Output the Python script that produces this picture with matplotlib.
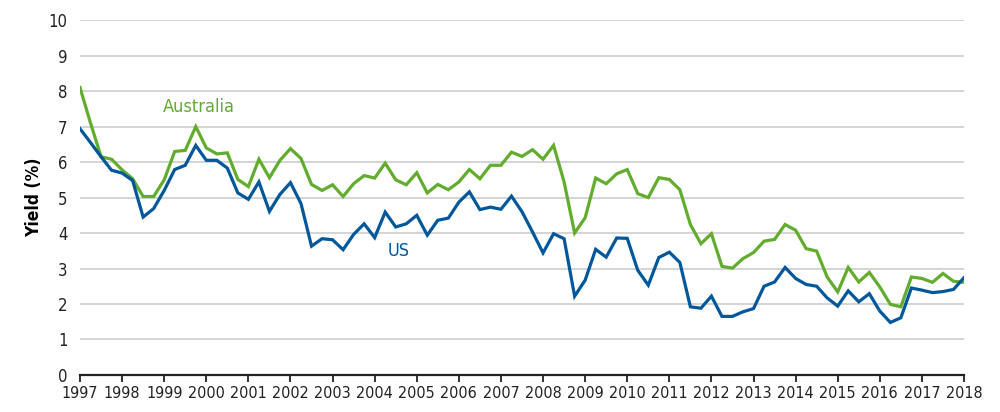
# Australia vs US 10-year government bond yields, quarterly 1997-2018

import numpy
import matplotlib
matplotlib.use("Agg")
import matplotlib.pyplot as plt

plt.rcParams['font.family'] = ['DejaVu Sans']
plt.rcParams['font.stretch'] = 'condensed'

# quarterly observations, 1997Q1 .. 2018Q1
start_year = 1997
australia = [8.10, 7.10, 6.15, 6.08, 5.78, 5.53, 5.03, 5.03, 5.50, 6.30,
             6.33, 7.00, 6.40, 6.23, 6.26, 5.51, 5.31, 6.08, 5.56, 6.05,
             6.38, 6.10, 5.37, 5.20, 5.36, 5.03, 5.39, 5.62, 5.55, 5.97,
             5.50, 5.36, 5.70, 5.13, 5.37, 5.22, 5.44, 5.79, 5.53, 5.91,
             5.91, 6.28, 6.16, 6.35, 6.08, 6.47, 5.44, 4.00, 4.43, 5.55,
             5.39, 5.67, 5.79, 5.11, 5.00, 5.56, 5.51, 5.22, 4.24, 3.70,
             3.98, 3.06, 3.01, 3.28, 3.45, 3.77, 3.82, 4.24, 4.08, 3.56,
             3.49, 2.76, 2.34, 3.03, 2.62, 2.89, 2.48, 1.99, 1.92, 2.76,
             2.72, 2.61, 2.86, 2.64, 2.61]
us = [6.94, 6.55, 6.15, 5.77, 5.69, 5.48, 4.45, 4.69, 5.20, 5.79,
      5.91, 6.47, 6.05, 6.05, 5.83, 5.13, 4.95, 5.44, 4.61, 5.09,
      5.42, 4.83, 3.63, 3.84, 3.81, 3.53, 3.96, 4.26, 3.87, 4.59,
      4.17, 4.26, 4.50, 3.94, 4.36, 4.42, 4.87, 5.16, 4.66, 4.73,
      4.67, 5.04, 4.60, 4.03, 3.44, 3.98, 3.84, 2.22, 2.67, 3.54,
      3.32, 3.86, 3.85, 2.95, 2.53, 3.31, 3.46, 3.17, 1.92, 1.88,
      2.22, 1.65, 1.65, 1.78, 1.87, 2.50, 2.62, 3.03, 2.72, 2.55,
      2.50, 2.17, 1.94, 2.37, 2.06, 2.29, 1.80, 1.48, 1.61, 2.45,
      2.39, 2.32, 2.35, 2.41, 2.74]
years = list(range(1997, 2019))

t = start_year + numpy.arange(len(australia)) / 4.0

green = '#62ac2e'
blue = '#00579a'

fig = plt.figure(figsize=(10, 4.12), dpi=100)
ax = fig.add_axes([0.08, 0.09, 0.884, 0.861])

ax.plot(t, australia, color=green, lw=2.3, solid_joinstyle='miter', zorder=3)
ax.plot(t, us, color=blue, lw=2.3, solid_joinstyle='miter', zorder=4)

ax.set_xlim(1997, 2018)
ax.set_ylim(0, 10)
ax.set_yticks(range(0, 11))
ax.set_xticks(years)
ax.grid(axis='y', color='#d4d4d4', lw=1.4)
ax.set_axisbelow(True)

for s in ['top', 'right', 'left']:
    ax.spines[s].set_visible(False)
ax.spines['bottom'].set_color('#222222')
ax.spines['bottom'].set_linewidth(1.6)
ax.spines['bottom'].set_zorder(5)

ax.tick_params(axis='y', length=0, labelsize=12, pad=9, colors='#222222')
ax.tick_params(axis='x', length=5, width=1.3, direction='out',
               labelsize=11.5, pad=3, colors='#222222')
ax.set_ylabel('Yield (%)', fontsize=12.5, fontweight='bold', labelpad=4)

ax.text(1999.83, 7.54, 'Australia', color=green, fontsize=13,
        ha='center', va='center')
ax.text(2004.58, 3.48, 'US', color=blue, fontsize=13,
        ha='center', va='center')

fig.savefig('out.png', dpi=100)
